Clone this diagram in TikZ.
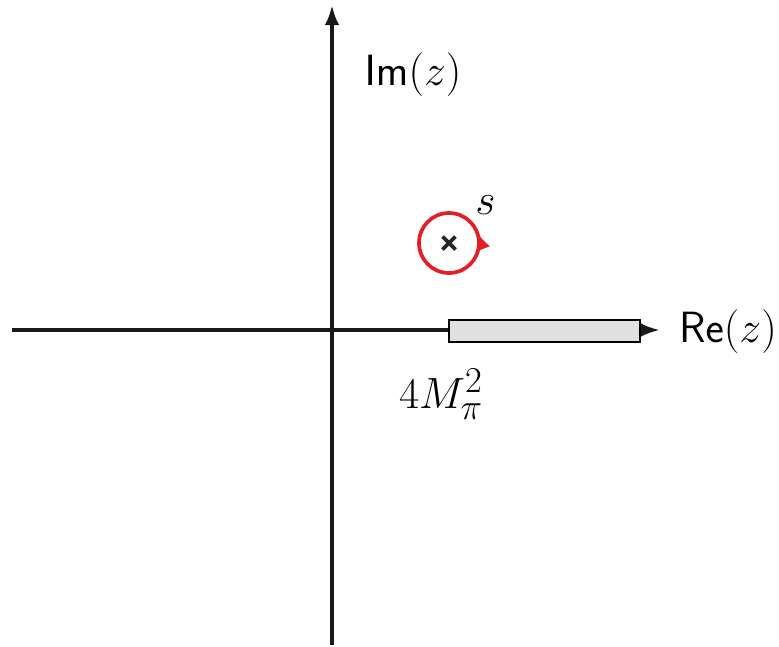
\documentclass[tikz,border=0pt]{standalone}
\usepackage{amsmath,amssymb}
\usetikzlibrary{arrows.meta,positioning,calc,decorations.markings}
\definecolor{cutColor}{RGB}{224,224,224}
\definecolor{loopColor}{RGB}{228,30,38}

\begin{document}
\begin{tikzpicture}[>={Latex[length=4mm,width=2.9mm]},font=\Huge,
 axis/.style={->,line width=2.1pt,black!90},
 cut/.style={draw,line width=1.1pt,fill=cutColor,minimum width=3.82cm,minimum height=0.44cm,inner sep=0pt},
 contour/.style={draw=loopColor,line width=2.1pt,
  postaction={decorate},decoration={markings,mark=at position 0.06 with {\arrow[loopColor]{Latex[length=3.6mm,width=2.8mm]}}}},
 cross/.style={line width=2.2pt,black!85}]
\useasboundingbox (-6.64,-6.32) rectangle (8.94,6.6);
\coordinate (origin) at (0,0);
\coordinate (xmin) at (-6.4,0);\coordinate (xmax) at (6.56,0);
\coordinate (ymin) at (0,-6.3);\coordinate (ymax) at (0,6.5);
\draw[axis] (xmin) -- (xmax);
\draw[axis] (ymin) -- (ymax);
\node[cut] (branch) at (4.25,-0.02) {};
\node (re) at (7.92,-0.04) {$\mathsf{Re}(z)$};
\node (im) at (1.62,5.1) {$\mathsf{Im}(z)$};
\node (thr) at (2.18,-1.28) {$4M_\pi^2$};
\coordinate (pole) at (2.34,1.74);
\draw[contour] (pole) ++(0.6,0) arc[start angle=0,end angle=360,radius=0.6];
\draw[cross] ($(pole)+(-0.13,-0.13)$) -- ($(pole)+(0.13,0.13)$);
\draw[cross] ($(pole)+(-0.13,0.13)$) -- ($(pole)+(0.13,-0.13)$);
\node (s) at (3.07,2.5) {$s$};
\end{tikzpicture}
\end{document}
